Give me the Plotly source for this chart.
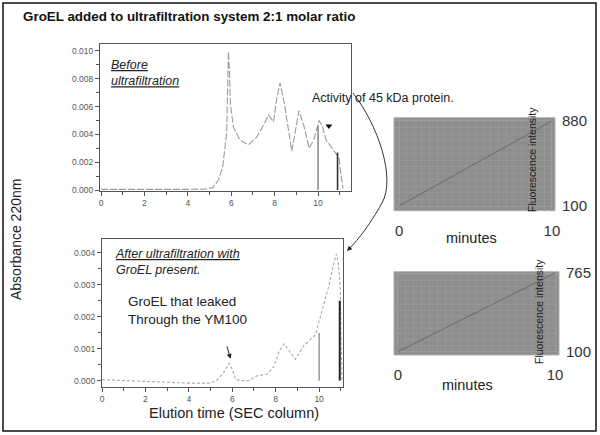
import plotly.graph_objects as go

W, H = 600, 435

# --- chromatogram before ultrafiltration (elution time, absorbance 220nm)
time_before = [0, 1, 2, 3, 4, 4.8, 5.16, 5.4, 5.6, 5.79, 5.84, 5.87, 5.92, 5.96, 6.1, 6.4, 6.79,
               7.17, 7.5, 7.72, 7.95, 8.1, 8.25, 8.45, 8.79, 8.95, 9.12, 9.35, 9.59, 9.8,
               10.05, 10.2, 10.37, 10.7, 10.97, 11.05, 11.15]
abs_before = [0.00005, 0.00004, 0.00004, 0.00004, 0.00005, 0.00007, 0.00017, 0.0007, 0.0016, 0.0041,
              0.0085, 0.00995, 0.0085, 0.0062, 0.0045, 0.0036, 0.00324,
              0.0038, 0.0047, 0.0054, 0.0049, 0.0066, 0.0077, 0.0062, 0.0028, 0.0041, 0.0057,
              0.0046, 0.0030, 0.0036, 0.0050, 0.0046, 0.0036, 0.0029, 0.0023, 0.0012, 0.0001]

# --- chromatogram after ultrafiltration with GroEL present
time_after = [0, 1, 2, 3, 4, 5, 5.3, 5.6, 5.85, 6.0, 6.16, 6.5, 6.77, 7.15, 7.6, 7.92, 8.15,
              8.38, 8.65, 8.91, 9.3, 9.83, 10.1, 10.44, 10.65, 10.8, 10.9, 10.98, 11.05]
abs_after = [0.00003, 0.0, -0.00004, -0.00006, -0.00008, -0.00008, 0.00002, 0.00025, 0.00054, 0.00035,
             0.00003, 0.0, 0.0, 0.00015, 0.0002, 0.00044, 0.0009,
             0.00115, 0.0009, 0.00067, 0.0011, 0.00143, 0.0021, 0.00294, 0.0036, 0.00396, 0.0036, 0.0028, 0.0]

# fraction markers (vertical lines)
frac_before_x = [10.0, 10.9]
frac_before_top = [0.0046, 0.0027]
frac_after_x = [10.0, 10.95]
frac_after_top = [0.00149, 0.0025]

# activity assays
minutes = [0, 10]
fluor_before = [100, 880]
fluor_after = [100, 765]

FONT = "Liberation Sans"
GRAY = "#555555"


def px(x):
    return x / W


def py(y):
    return 1 - y / H


fig = go.Figure()

fig.add_trace(go.Scatter(x=time_before, y=abs_before, mode='lines',
                         line=dict(color='#9c9c9c', width=1.1, dash='7px,2px'),
                         xaxis='x', yaxis='y'))
for xv, top in zip(frac_before_x, frac_before_top):
    fig.add_trace(go.Scatter(x=[xv, xv], y=[0, top], mode='lines',
                             line=dict(color='#666666' if xv < 10.5 else '#333333',
                                       width=1.2 if xv < 10.5 else 1.6),
                             xaxis='x', yaxis='y'))
fig.add_trace(go.Scatter(x=[10.5], y=[0.0046], mode='markers',
                         marker=dict(symbol='triangle-down', size=6, color='#111111'),
                         xaxis='x', yaxis='y'))

fig.add_trace(go.Scatter(x=time_after, y=abs_after, mode='lines',
                         line=dict(color='#aaaaaa', width=1.1, dash='3px,2px'),
                         xaxis='x2', yaxis='y2'))
for xv, top in zip(frac_after_x, frac_after_top):
    fig.add_trace(go.Scatter(x=[xv, xv], y=[0, top], mode='lines',
                             line=dict(color='#666666' if xv < 10.5 else '#222222',
                                       width=1.0 if xv < 10.5 else 2),
                             xaxis='x2', yaxis='y2'))

fig.add_trace(go.Scatter(x=minutes, y=fluor_before, mode='lines',
                         line=dict(color='#6a6a6a', width=1), xaxis='x3', yaxis='y3'))
fig.add_trace(go.Scatter(x=minutes, y=fluor_after, mode='lines',
                         line=dict(color='#6a6a6a', width=1), xaxis='x4', yaxis='y4'))

chrom_axis = dict(showline=True, linecolor=GRAY, linewidth=1, mirror=True, showgrid=False,
                  zeroline=False, ticks='outside', ticklen=4, tickcolor=GRAY, automargin=False,
                  tickfont=dict(size=8.5, color=GRAY, family=FONT))

fig.update_layout(
    xaxis=dict(chrom_axis, domain=[px(100), px(351)], range=[-0.05, 11.52], anchor='y',
               dtick=2, minor=dict(ticks='outside', dtick=1, ticklen=3, tickcolor=GRAY)),
    yaxis=dict(chrom_axis, domain=[py(191), py(44)], range=[-0.00007, 0.0105], anchor='x',
               dtick=0.002, tickformat='.3f',
               minor=dict(ticks='outside', dtick=0.001, ticklen=3, tickcolor=GRAY)),
    xaxis2=dict(chrom_axis, domain=[px(102), px(343)], range=[0, 11.1], anchor='y2',
                dtick=2, minor=dict(ticks='outside', dtick=1, ticklen=3, tickcolor=GRAY)),
    yaxis2=dict(chrom_axis, domain=[py(387), py(239)], range=[-0.0002, 0.00443], anchor='x2',
                dtick=0.001, tickformat='.3f',
                minor=dict(ticks='outside', dtick=0.0005, ticklen=3, tickcolor=GRAY)),
)

fluor_x = dict(showline=False, zeroline=False, showgrid=True, gridcolor='#9c9c9c', gridwidth=0.5,
               tickvals=[0, 10], ticks='outside', ticklen=6, tickcolor='rgba(0,0,0,0)',
               automargin=False, tickfont=dict(size=15, color='#333333', family=FONT),
               minor=dict(showgrid=True, gridcolor='#969696', gridwidth=0.4,
                          tickvals=[i * 0.5 for i in range(21)]))
fluor_y = dict(showline=False, zeroline=False, showgrid=True, gridcolor='#9c9c9c', gridwidth=0.5,
               side='right', ticks='outside', ticklen=3, tickcolor='rgba(0,0,0,0)',
               automargin=False, tickfont=dict(size=15, color='#333333', family=FONT))

fig.update_layout(
    xaxis3=dict(fluor_x, domain=[px(394), px(555)], range=[-0.33, 10.2], anchor='y3'),
    yaxis3=dict(fluor_y, domain=[py(210.7), py(117.7)], range=[57, 910], anchor='x3',
                tickvals=[100, 880],
                minor=dict(showgrid=True, gridcolor='#969696', gridwidth=0.4,
                           tickvals=list(range(100, 900, 60)))),
    xaxis4=dict(fluor_x, domain=[px(394), px(559)], range=[-0.25, 10.25], anchor='y4'),
    yaxis4=dict(fluor_y, domain=[py(355), py(271.7)], range=[72, 776], anchor='x4',
                tickvals=[100, 765],
                minor=dict(showgrid=True, gridcolor='#969696', gridwidth=0.4,
                           tickvals=list(range(100, 780, 50)))),
)

shapes = [
    dict(type='rect', xref='paper', yref='paper', x0=px(3), x1=px(596), y0=py(431), y1=py(3),
         line=dict(color='#111111', width=1.5)),
    dict(type='rect', xref='x3 domain', yref='y3 domain', x0=0, x1=1, y0=0, y1=1,
         fillcolor='#8e8e8c', line=dict(color='#b0b0b0', width=1), layer='below'),
    dict(type='rect', xref='x4 domain', yref='y4 domain', x0=0, x1=1, y0=0, y1=1,
         fillcolor='#8e8e8c', line=dict(color='#b0b0b0', width=1), layer='below'),
]

# curved connector from the activity label down to the peak of the second run
pts = [(353, 93), (378, 125), (396, 178), (382, 203), (368, 228), (356, 242), (348, 250)]
p = ['{:.4f},{:.4f}'.format(px(a), py(b)) for a, b in pts]
shapes.append(dict(type='path', xref='paper', yref='paper',
                   path='M {} C {} {} {} C {} {} {}'.format(*p),
                   line=dict(color='#333333', width=1)))
fig.update_layout(shapes=shapes)


def label(text, x, y, size, xanchor='left', color='#222222', **kw):
    fig.add_annotation(text=text, xref='paper', yref='paper', x=px(x), y=py(y),
                       xanchor=xanchor, yanchor='middle', showarrow=False,
                       font=dict(size=size, color=color, family=FONT), align='left', **kw)


label('<b>GroEL added to ultrafiltration system 2:1 molar ratio</b>', 21, 16, 13.4, color='#111111')
label('<u><i>Before</i></u><br><u><i>ultrafiltration</i></u>', 109, 73, 12.5)
label('Activity of 45 kDa protein.', 310, 98, 12.5)
label('<u><i>After ultrafiltration with</i></u><br><i>GroEL present.</i>', 113, 262, 12.5)
label('GroEL that leaked<br>Through the YM100', 126, 310, 13.5)
label('Elution time (SEC column)', 234, 413, 14.5, xanchor='center')
label('Absorbance 220nm', 16, 240, 14, xanchor='center', textangle=-90)
label('Fluorescence intensity', 532, 160, 10.5, xanchor='center', textangle=-90)
label('Fluorescence intensity', 539, 312, 10.5, xanchor='center', textangle=-90)
label('minutes', 471, 238, 14.5, xanchor='center')
label('minutes', 467, 385, 14.5, xanchor='center')

# arrow heads
fig.add_annotation(x=px(347), y=py(251), xref='paper', yref='paper', ax=6, ay=-6,
                   showarrow=True, arrowhead=2, arrowsize=1, arrowwidth=1, arrowcolor='#222222',
                   text='')
fig.add_annotation(x=5.92, y=0.00068, xref='x2', yref='y2', ax=-4, ay=-14,
                   showarrow=True, arrowhead=2, arrowsize=1, arrowwidth=1, arrowcolor='#222222',
                   text='')

fig.update_layout(
    width=W, height=H,
    margin=dict(l=0, r=0, t=0, b=0),
    paper_bgcolor='white',
    plot_bgcolor='white',
    showlegend=False,
    font=dict(family=FONT, color='#222222'),
)

fig.write_html("out.html", config={'displayModeBar': False},
               post_script="document.body.style.margin='0';")
